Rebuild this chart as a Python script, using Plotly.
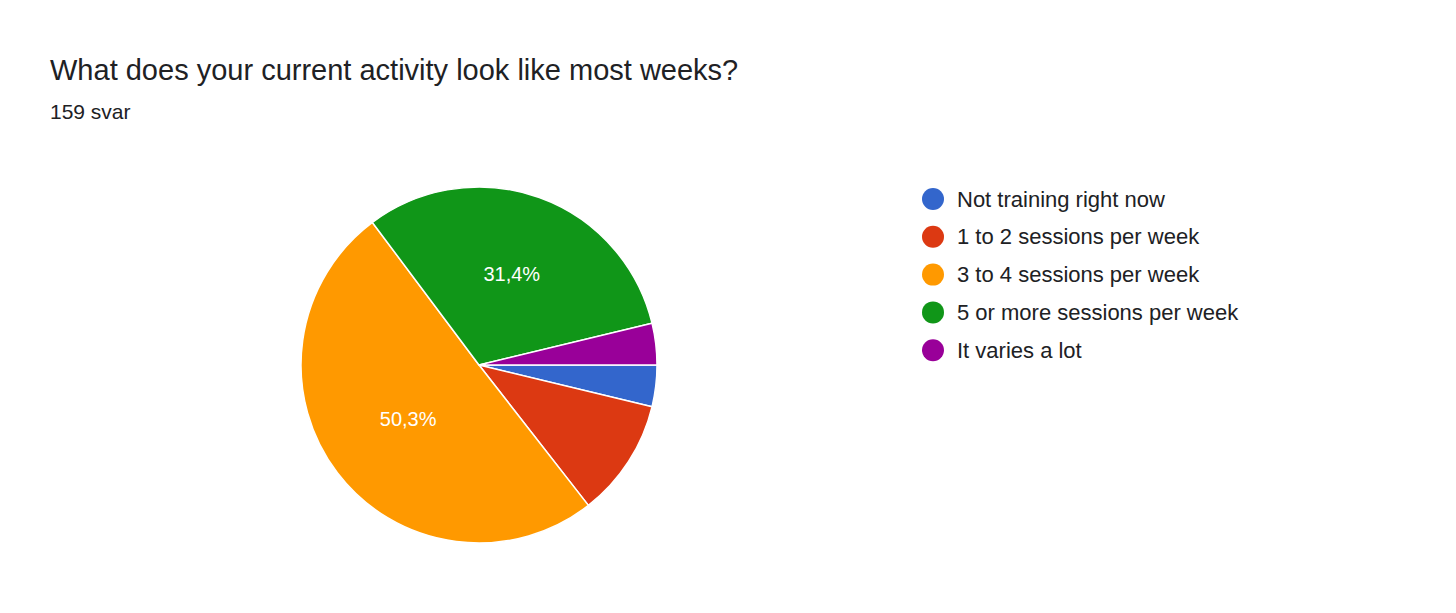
import plotly.graph_objects as go

labels = ["Not training right now", "1 to 2 sessions per week", "3 to 4 sessions per week",
          "5 or more sessions per week", "It varies a lot"]
counts = [6, 17, 80, 50, 6]
colors = ["#3366cc", "#dc3912", "#ff9900", "#109618", "#990099"]

total = sum(counts)
texts = []
for c in counts:
    p = c / total * 100
    texts.append(f"{p:.1f}%".replace(".", ",") if p >= 20 else "")

W, H = 1456, 613
OX, OY = 8, 8
FONT = "Liberation Sans, Arial, sans-serif"
fig = go.Figure(go.Pie(
    labels=labels, values=counts, text=texts, textinfo="text",
    sort=False, direction="clockwise", rotation=90,
    marker=dict(colors=colors, line=dict(color="white", width=1.5)),
    textfont=dict(color="white", size=20, family=FONT),
    insidetextorientation="horizontal", hoverinfo="label+percent",
    domain=dict(x=[(301 - OX) / W, (657 - OX) / W], y=[1 - (544 - OY) / H, 1 - (186 - OY) / H]),
    showlegend=False,
))

shapes, anns = [], []
for i, (lab, col) in enumerate(zip(labels, colors)):
    yc = 199 + i * 37.8 - OY
    xc = 933 - OX
    shapes.append(dict(type="circle", xref="paper", yref="paper",
                       x0=(xc - 11) / W, x1=(xc + 11) / W, y0=1 - (yc + 11) / H, y1=1 - (yc - 11) / H,
                       fillcolor=col, line=dict(width=0)))
    anns.append(dict(text=lab, xref="paper", yref="paper", x=(955 - OX) / W, y=1 - yc / H,
                     xanchor="left", yanchor="middle", showarrow=False,
                     font=dict(size=22, color="#202124", family=FONT)))
anns.append(dict(text="What does your current activity look like most weeks?", xref="paper", yref="paper",
                 x=(48 - OX) / W, y=1 - (70 - OY) / H, xanchor="left", yanchor="middle", showarrow=False,
                 font=dict(size=29, color="#202124", family=FONT)))
anns.append(dict(text=f"{total} svar", xref="paper", yref="paper",
                 x=(48 - OX) / W, y=1 - (111 - OY) / H, xanchor="left", yanchor="middle", showarrow=False,
                 font=dict(size=21, color="#202124", family=FONT)))

fig.update_layout(width=W, height=H, margin=dict(l=0, r=0, t=0, b=0),
                  paper_bgcolor="white", plot_bgcolor="white",
                  shapes=shapes, annotations=anns)
fig.write_html("out.html")
